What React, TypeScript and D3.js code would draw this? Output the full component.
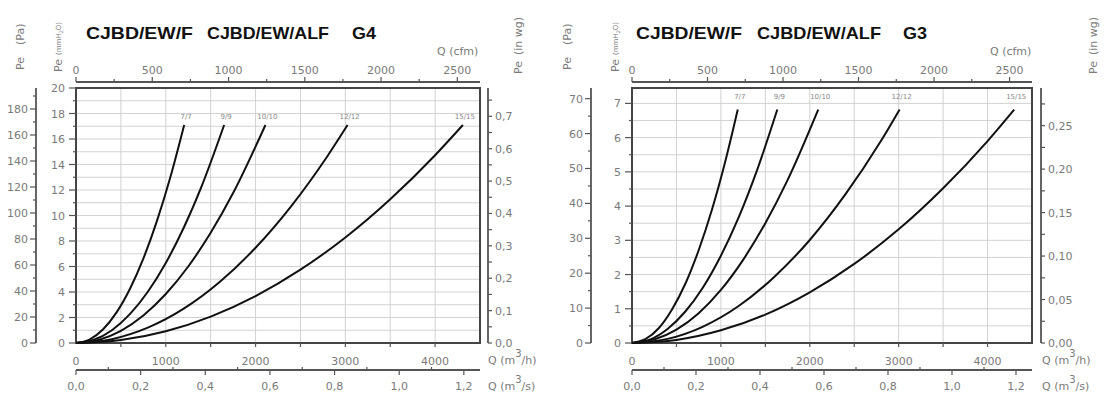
import React from "react";
import * as d3 from "d3";

// ---------- DATA (Q in m3/h, Pe in mmH2O) ----------
const curveNames = ["7/7", "9/9", "10/10", "12/12", "15/15"];

// G4 panel
const g4_7x7: [number, number][] = [[0, 0], [150, 0.27], [300, 1.06], [450, 2.38], [600, 4.24], [750, 6.62], [900, 9.54], [1050, 12.98], [1205, 17.1]];
const g4_9x9: [number, number][] = [[0, 0], [200, 0.25], [400, 1.0], [600, 2.26], [800, 4.02], [1000, 6.28], [1200, 9.04], [1400, 12.31], [1650, 17.1]];
const g4_10x10: [number, number][] = [[0, 0], [250, 0.24], [500, 0.96], [750, 2.16], [1000, 3.84], [1250, 6.0], [1500, 8.64], [1750, 11.76], [2110, 17.1]];
const g4_12x12: [number, number][] = [[0, 0], [400, 0.3], [800, 1.2], [1200, 2.69], [1600, 4.78], [2000, 7.47], [2400, 10.76], [2800, 14.65], [3025, 17.1]];
const g4_15x15: [number, number][] = [[0, 0], [500, 0.23], [1000, 0.92], [1500, 2.07], [2000, 3.68], [2500, 5.75], [3000, 8.28], [3500, 11.28], [4000, 14.73], [4310, 17.1]];

// G3 panel
const g3_7x7: [number, number][] = [[0, 0], [150, 0.11], [300, 0.43], [450, 0.98], [600, 1.73], [750, 2.71], [900, 3.9], [1050, 5.31], [1190, 6.82]];
const g3_9x9: [number, number][] = [[0, 0], [200, 0.1], [400, 0.41], [600, 0.92], [800, 1.63], [1000, 2.55], [1200, 3.67], [1400, 5.0], [1635, 6.82]];
const g3_10x10: [number, number][] = [[0, 0], [250, 0.1], [500, 0.39], [750, 0.87], [1000, 1.55], [1250, 2.43], [1500, 3.5], [1750, 4.76], [2095, 6.82]];
const g3_12x12: [number, number][] = [[0, 0], [400, 0.12], [800, 0.48], [1200, 1.08], [1600, 1.93], [2000, 3.01], [2400, 4.34], [2800, 5.9], [3010, 6.82]];
const g3_15x15: [number, number][] = [[0, 0], [500, 0.09], [1000, 0.37], [1500, 0.83], [2000, 1.48], [2500, 2.31], [3000, 3.32], [3500, 4.52], [4000, 5.9], [4300, 6.82]];

// ticks
const cfmTicks = [0, 500, 1000, 1500, 2000, 2500];
const m3hTicks = [0, 1000, 2000, 3000, 4000];
const m3sTicks = [0, 0.2, 0.4, 0.6, 0.8, 1.0, 1.2];
const g4PaTicks = [0, 20, 40, 60, 80, 100, 120, 140, 160, 180];
const g4MmTicks = [0, 2, 4, 6, 8, 10, 12, 14, 16, 18, 20];
const g4InwgTicks = [0, 0.1, 0.2, 0.3, 0.4, 0.5, 0.6, 0.7];
const g3PaTicks = [0, 10, 20, 30, 40, 50, 60, 70];
const g3MmTicks = [0, 1, 2, 3, 4, 5, 6, 7];
const g3InwgTicks = [0, 0.05, 0.1, 0.15, 0.2, 0.25];

const PA_PER_MM = 9.80665;
const MM_PER_INWG = 25.4;
const M3H_PER_CFM = 1.699;

const AX = "#7a7a7a";
const LN = "#555";
const FONT = "DejaVu Sans, sans-serif";

type PanelCfg = {
  x0: number; x1: number; y0: number; y1: number;
  xMax: number; yMax: number;
  series: [number, number][][];
  mmTicks: number[]; mmMinorStep: number; mmGridStep: number;
  paTicks: number[]; paMinorStep: number;
  inwgTicks: number[]; inwgMinorStep: number; inwgDigits: number;
  paAxisX: number; mmLabelX: number; inwgAxisX: number;
  titles: { t: string; x: number; w: number }[];
  labelOffset: number;
  paTitleX: number; mmTitleX: number; inwgTitleX: number;
  cfmTitleX: number; qTitleX: number;
  clip?: number;
  id: string;
};

const fmt = (v: number, d: number) => v.toFixed(d).replace(".", ",");

function Panel({ c }: { c: PanelCfg }) {
  const x = d3.scaleLinear().domain([0, c.xMax]).range([c.x0, c.x1]);
  const y = d3.scaleLinear().domain([0, c.yMax]).range([c.y1, c.y0]);
  const line = d3.line<[number, number]>().x((d) => x(d[0])).y((d) => y(d[1])).curve(d3.curveMonotoneX);

  const vGrid = d3.range(500, c.xMax, 500);
  const hGrid = d3.range(c.mmGridStep, c.yMax - 1e-6, c.mmGridStep);
  const mmMinor = d3.range(0, c.yMax + 1e-6, c.mmMinorStep);
  const paMax = c.yMax * PA_PER_MM;
  const paMinor = d3.range(0, paMax + 1e-6, c.paMinorStep);
  const inwgMax = c.yMax / MM_PER_INWG;
  const inwgMinor = d3.range(0, inwgMax + 1e-6, c.inwgMinorStep);
  const cfmMinor = d3.range(0, c.xMax / M3H_PER_CFM, 250);
  const m3sMinor = d3.range(0, c.xMax / 3600 + 1e-6, 0.1);
  const m3hMinor = d3.range(500, c.xMax, 500);

  const topY = 82;
  const m3sY = 370;
  const content = (
    <g>
      {/* titles */}
      {c.titles.map((t, i) => (
        <text key={i} x={t.x} y={39} fontFamily="Liberation Sans, Arial, sans-serif" fontWeight="bold" fontSize={17} fill="#111" textLength={t.w} lengthAdjust="spacingAndGlyphs">{t.t}</text>
      ))}
      {/* grid */}
      {vGrid.map((v) => <line key={"v" + v} x1={x(v)} x2={x(v)} y1={c.y0} y2={c.y1} stroke="#d2d2d2" strokeWidth={1} />)}
      {hGrid.map((v) => <line key={"h" + v} x1={c.x0} x2={c.x1} y1={y(v)} y2={y(v)} stroke="#d2d2d2" strokeWidth={1} />)}
      {/* frame */}
      <rect x={c.x0} y={c.y0} width={c.x1 - c.x0} height={c.y1 - c.y0} fill="none" stroke="#444" strokeWidth={2} />
      {/* curves */}
      {c.series.map((s, i) => (
        <path key={"c" + i} d={line(s) || ""} fill="none" stroke="#111" strokeWidth={2} />
      ))}
      {c.series.map((s, i) => {
        const e = s[s.length - 1];
        return (
          <text key={"l" + i} x={x(e[0]) + 2} y={y(e[1]) - c.labelOffset} fontFamily={FONT} fontSize={7} fill="#888" textAnchor="middle">{curveNames[i]}</text>
        );
      })}
      {/* top cfm axis */}
      <line x1={c.x0} x2={c.x1} y1={topY} y2={topY} stroke={LN} strokeWidth={1.8} />
      {cfmMinor.map((v) => <line key={"cm" + v} x1={x(v * M3H_PER_CFM)} x2={x(v * M3H_PER_CFM)} y1={topY} y2={topY - (v % 500 === 0 ? 5 : 3)} stroke={LN} strokeWidth={1.2} />)}
      {cfmTicks.map((v) => <text key={"ct" + v} x={x(v * M3H_PER_CFM)} y={74} fontFamily={FONT} fontSize={11} fill={AX} textAnchor="middle">{v}</text>)}
      <text x={c.cfmTitleX} y={55} fontFamily={FONT} fontSize={11} fill={AX}>Q (cfm)</text>
      {/* bottom m3/h */}
      {m3hMinor.map((v) => <line key={"hm" + v} x1={x(v)} x2={x(v)} y1={c.y1} y2={c.y1 + 4} stroke={LN} strokeWidth={1.2} />)}
      {m3hTicks.map((v) => <text key={"ht" + v} x={x(v)} y={365} fontFamily={FONT} fontSize={11} fill={AX} textAnchor="middle">{v}</text>)}
      <text x={c.qTitleX} y={364} fontFamily={FONT} fontSize={11} fill={AX}>Q (m<tspan dy={-7} fontSize={10}>3</tspan><tspan dy={7}>/h)</tspan></text>
      {/* m3/s axis */}
      <line x1={c.x0} x2={c.x1} y1={m3sY} y2={m3sY} stroke={LN} strokeWidth={1.8} />
      {m3sMinor.map((v, i) => <line key={"sm" + i} x1={x(v * 3600)} x2={x(v * 3600)} y1={i % 2 === 0 ? m3sY : m3sY - 3} y2={i % 2 === 0 ? m3sY + 5 : m3sY} stroke={LN} strokeWidth={1.2} />)}
      {m3sTicks.map((v) => <text key={"st" + v} x={x(v * 3600)} y={390} fontFamily={FONT} fontSize={11} fill={AX} textAnchor="middle">{fmt(v, 1)}</text>)}
      <text x={c.qTitleX} y={390} fontFamily={FONT} fontSize={11} fill={AX}>Q (m<tspan dy={-7} fontSize={10}>3</tspan><tspan dy={7}>/s)</tspan></text>
      {/* mmH2O axis */}
      {mmMinor.map((v, i) => {
        const lab = c.mmTicks.some((t) => Math.abs(t - v) < 1e-6);
        return <line key={"mm" + i} x1={c.x0 - (lab ? 7 : 3)} x2={c.x0} y1={y(v)} y2={y(v)} stroke={LN} strokeWidth={1.2} />;
      })}
      {c.mmTicks.map((v) => <text key={"mt" + v} x={c.mmLabelX} y={y(v) + 4} fontFamily={FONT} fontSize={11} fill={AX} textAnchor="end">{v}</text>)}
      {/* Pa axis */}
      <line x1={c.paAxisX} x2={c.paAxisX} y1={c.y0} y2={c.y1} stroke={LN} strokeWidth={1.8} />
      {paMinor.map((v, i) => {
        const lab = c.paTicks.some((t) => Math.abs(t - v) < 1e-6);
        return <line key={"pm" + i} x1={c.paAxisX - (lab ? 6 : 3)} x2={c.paAxisX} y1={y(v / PA_PER_MM)} y2={y(v / PA_PER_MM)} stroke={LN} strokeWidth={1.2} />;
      })}
      {c.paTicks.map((v) => <text key={"pt" + v} x={c.paAxisX - 8} y={y(v / PA_PER_MM) + 4} fontFamily={FONT} fontSize={11} fill={AX} textAnchor="end">{v}</text>)}
      {/* in wg axis */}
      <line x1={c.inwgAxisX} x2={c.inwgAxisX} y1={c.y0} y2={c.y1} stroke={LN} strokeWidth={1.8} />
      {inwgMinor.map((v, i) => <line key={"im" + i} x1={c.inwgAxisX} x2={c.inwgAxisX + 4} y1={y(v * MM_PER_INWG)} y2={y(v * MM_PER_INWG)} stroke={LN} strokeWidth={1.2} />)}
      {c.inwgTicks.map((v) => <text key={"it" + v} x={c.inwgAxisX + 7} y={y(v * MM_PER_INWG) + 4} fontFamily={FONT} fontSize={11} fill={AX}>{fmt(v, c.inwgDigits)}</text>)}
      {/* rotated axis titles */}
      <g fontFamily={FONT} fill={AX}>
        <text transform={`translate(${c.paTitleX},70) rotate(-90)`} fontSize={11}>Pe</text>
        <text transform={`translate(${c.paTitleX},45) rotate(-90)`} fontSize={11}>(Pa)</text>
        <text transform={`translate(${c.mmTitleX},72) rotate(-90)`} fontSize={11}>Pe</text>
        <text transform={`translate(${c.mmTitleX - 1},55) rotate(-90)`} fontSize={7}>(mmH<tspan fontSize={5} dy={1.5}>2</tspan><tspan dy={-1.5}>O)</tspan></text>
        <text transform={`translate(${c.inwgTitleX},74) rotate(-90)`} fontSize={11}>Pe</text>
        <text transform={`translate(${c.inwgTitleX},55) rotate(-90)`} fontSize={11}>(in wg)</text>
      </g>
    </g>
  );
  if (c.clip) {
    return (
      <g>
        <defs>
          <clipPath id={c.id}><rect x={0} y={0} width={c.clip} height={394} /></clipPath>
        </defs>
        <g clipPath={`url(#${c.id})`}>{content}</g>
      </g>
    );
  }
  return content;
}

const g4Cfg: PanelCfg = {
  id: "g4", x0: 76, x1: 480, y0: 88, y1: 343, xMax: 4500, yMax: 20,
  series: [g4_7x7, g4_9x9, g4_10x10, g4_12x12, g4_15x15],
  mmTicks: g4MmTicks, mmMinorStep: 1, mmGridStep: 1,
  paTicks: g4PaTicks, paMinorStep: 10,
  inwgTicks: g4InwgTicks, inwgMinorStep: 0.05, inwgDigits: 1,
  paAxisX: 36, mmLabelX: 65, inwgAxisX: 488,
  titles: [{ t: "CJBD/EW/F", x: 86, w: 107 }, { t: "CJBD/EW/ALF", x: 207, w: 122 }, { t: "G4", x: 352, w: 24 }],
  labelOffset: 6,
  paTitleX: 24, mmTitleX: 62, inwgTitleX: 522, cfmTitleX: 437, qTitleX: 488,
  clip: 538,
};

const g3Cfg: PanelCfg = {
  id: "g3", x0: 632, x1: 1032, y0: 88, y1: 343, xMax: 4500, yMax: 7.45,
  series: [g3_7x7, g3_9x9, g3_10x10, g3_12x12, g3_15x15],
  mmTicks: g3MmTicks, mmMinorStep: 0.5, mmGridStep: 0.5,
  paTicks: g3PaTicks, paMinorStep: 5,
  inwgTicks: g3InwgTicks, inwgMinorStep: 0.025, inwgDigits: 2,
  paAxisX: 591, mmLabelX: 621, inwgAxisX: 1041,
  titles: [{ t: "CJBD/EW/F", x: 636, w: 106 }, { t: "CJBD/EW/ALF", x: 757, w: 124 }, { t: "G3", x: 903, w: 24 }],
  labelOffset: 11,
  paTitleX: 571, mmTitleX: 619, inwgTitleX: 1097, cfmTitleX: 990, qTitleX: 1042,
};

export default function App() {
  return (
    <svg width={1109} height={394} style={{ position: "absolute", left: 0, top: 0, background: "#fff" }}>
      <rect width={1109} height={394} fill="#fff" />
      <Panel c={g4Cfg} />
      <Panel c={g3Cfg} />
    </svg>
  );
}
